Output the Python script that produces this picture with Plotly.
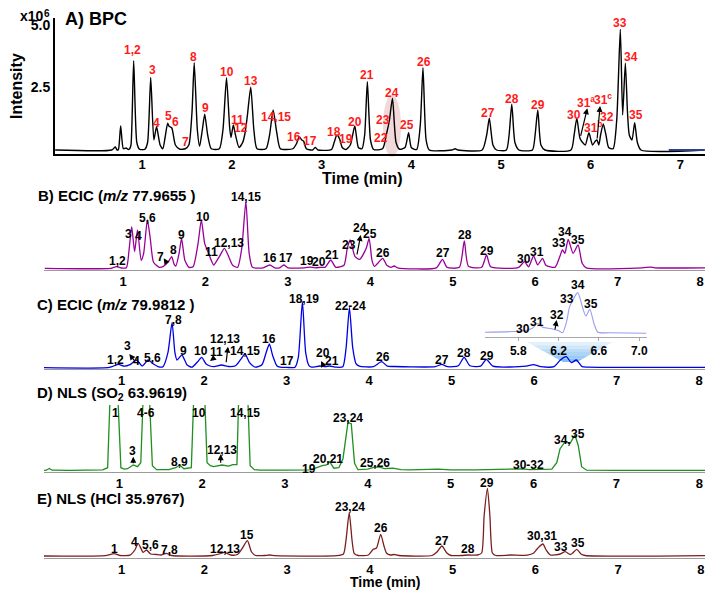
import plotly.graph_objects as go

W, H = 713, 595
OFF = 8  # the page body margin shifts the figure by 8 px; positions below are page pixels
FONT = "Liberation Sans"

# ---------------- data (retention time in min, intensity) ----------------
# A) BPC, intensity x10^6
bpc_t = [0.03, 0.66, 0.70, 0.72, 0.735, 0.76, 0.79, 0.82, 0.845, 0.86, 0.875, 0.905, 0.94, 0.97, 1.03, 1.06,
         1.095, 1.13, 1.16, 1.20, 1.23, 1.255, 1.284, 1.30, 1.33, 1.37, 1.42, 1.48, 1.52, 1.555, 1.58, 1.615,
         1.64, 1.67, 1.697, 1.73, 1.77, 1.86, 1.90, 1.94, 1.975, 1.99, 2.016, 2.04, 2.08, 2.12, 2.146, 2.17,
         2.21, 2.245, 2.28, 2.38, 2.42, 2.46, 2.50, 2.54, 2.68, 2.72, 2.75, 2.78, 2.80, 2.83, 2.90, 2.93, 2.96,
         3.11, 3.14, 3.17, 3.20, 3.23, 3.27, 3.32, 3.37, 3.41, 3.45, 3.48, 3.51, 3.545, 3.58, 3.68, 3.725,
         3.755, 3.79, 3.83, 3.87, 3.93, 3.97, 4.00, 4.06, 4.10, 4.13, 4.165, 4.20, 4.45, 4.49, 4.52, 4.79,
         4.84, 4.87, 4.91, 4.95, 5.06, 5.09, 5.12, 5.155, 5.20, 5.35, 5.38, 5.41, 5.445, 5.49, 5.78, 5.815,
         5.845, 5.88, 5.91, 5.94, 5.98, 6.02, 6.05, 6.07, 6.09, 6.11, 6.14, 6.17, 6.20, 6.25, 6.29, 6.33,
         6.356, 6.386, 6.41, 6.43, 6.46, 6.49, 6.52, 6.56, 7.27]
bpc_i = [0, 0, 0.12, 0.0, 0.02, 0.96, 0.05, 0.08, 0.02, 0.05, 0.2, 3.57, 0.3, 0.03, 0.03, 0.3,
         2.9, 0.4, 0.93, 0.2, 0.05, 0.5, 1.07, 0.95, 0.88, 0.2, 0.03, 0.05, 0.2, 1.5, 3.49, 0.8,
         0.15, 0.8, 1.43, 0.6, 0.05, 0.05, 0.8, 2.89, 0.9, 0.5, 1.0, 0.6, 0.1, 0.3, 0.67, 1.3,
         2.51, 0.8, 0.05, 0.05, 0.6, 1.6, 0.7, 0.05, 0.05, 0.25, 0.53, 0.4, 0.35, 0.05, 0.0, 0.1, 0.0,
         0.02, 0.3, 0.6, 0.45, 0.1, 0.02, 0.2, 0.96, 0.1, 0.05, 0.6, 2.73, 0.4, 0.02, 0.05, 0.67,
         1.17, 2.07, 0.3, 0.03, 0.1, 0.69, 0.1, 0.02, 1.0, 3.29, 0.4, 0.0, 0.0, 0.05, 0.0, 0.0,
         0.6, 1.27, 0.2, 0.0, 0.0, 0.6, 1.83, 0.3, 0.0, 0.0, 0.6, 1.6, 0.2, 0.0, 0.0, 0.6,
         1.27, 0.47, 0.3, 0.2, 0.69, 0.2, 0.35, 0.4, 0.2, 0.6, 1.04, 0.6, 0.1, 0.05, 1.2, 4.83,
         1.4, 3.47, 1.5, 0.6, 0.4, 1.09, 0.3, 0.0, 0.0]
bpc_tail_t = [6.87, 7.27]
bpc_tail_i = [0, 0]

# B) ECIC m/z 77.9655 (relative intensity)
ecic78_t = [0.05, 0.85, 0.92, 0.98, 1.04, 1.075, 1.105, 1.14, 1.175, 1.22, 1.25, 1.295, 1.33, 1.37, 1.44,
            1.49, 1.52, 1.56, 1.59, 1.62, 1.64, 1.68, 1.71, 1.75, 1.80, 1.85, 1.91, 1.95, 1.99, 2.03,
            2.07, 2.10, 2.17, 2.23, 2.28, 2.33, 2.39, 2.44, 2.49, 2.53, 2.57, 2.70, 2.78, 2.84, 2.90,
            2.95, 3.00, 3.20, 3.27, 3.33, 3.40, 3.45, 3.52, 3.58, 3.68, 3.72, 3.755, 3.815, 3.87, 3.95,
            3.985, 4.02, 4.05, 4.10, 4.15, 4.20, 4.25, 4.29, 4.33, 4.80, 4.875, 4.93, 5.08, 5.14, 5.19,
            5.35, 5.41, 5.46, 5.80, 5.87, 5.92, 5.98, 6.03, 6.09, 6.13, 6.24, 6.30, 6.33, 6.36, 6.40,
            6.46, 6.52, 6.57, 6.62, 7.30, 7.40, 7.45, 8.07]
ecic78_i = [0, 0, 1.7, 0.3, 0.5, 20, 41.7, 16.7, 38.3, 8, 15, 48.3, 30, 6, 1,
            2, 4, 8, 11.7, 4, 2.3, 15, 30, 8, 1, 1.5, 25, 48.3, 25, 16.7,
            8, 3.3, 12, 20, 12, 3, 1, 20, 66.7, 15, 1, 0.5, 3.3, 0.5, 0.5,
            3.3, 0.5, 0.5, 1.2, 0.5, 1, 1, 8.3, 1, 3, 20, 28.3, 11.6, 9, 20,
            30, 8, 2, 6, 10, 3, 1, 2.3, 0.5, 0.5, 9, 1, 1, 27.3, 2,
            1, 13.3, 1.5, 1, 6.7, 1.5, 12.3, 3.5, 10, 3, 1, 12, 18.3, 15, 29,
            15, 23.3, 5, 0.5, 0.5, 1.2, 0.5, 0.5]

# C) ECIC m/z 79.9812
ecic80_t = [0.05, 0.85, 0.96, 1.03, 1.10, 1.18, 1.25, 1.32, 1.38, 1.45, 1.50, 1.56, 1.61, 1.645, 1.67,
            1.73, 1.79, 1.85, 1.92, 1.97, 2.02, 2.07, 2.12, 2.21, 2.30, 2.38, 2.44, 2.495, 2.55, 2.62,
            2.70, 2.75, 2.79, 2.83, 2.88, 2.92, 3.00, 3.10, 3.14, 3.19, 3.23, 3.27, 3.30, 3.40, 3.47,
            3.52, 3.60, 3.68, 3.72, 3.76, 3.80, 3.84, 3.88, 4.05, 4.15, 4.22, 4.30, 4.50, 4.80, 4.88,
            4.95, 5.08, 5.15, 5.22, 5.35, 5.42, 5.50, 5.90, 5.99, 6.08, 6.24, 6.32, 6.39, 6.45, 6.51,
            6.58, 6.65, 8.07]
ecic80_i = [0, 0.3, 3.3, 1.5, 3, 7.7, 1.7, 7.7, 4, 0.8, 1, 15, 45, 15, 7.7,
            12.7, 3, 0.5, 6, 10.3, 4, 1.7, 1, 2.7, 1.2, 2, 8, 13.7, 5, 0.5,
            3, 15, 23.7, 12, 2, 0.5, 0.3, 0.5, 10, 66, 15, 2, 0.5, 1.7, 1.2,
            1.7, 0.5, 1, 20, 60.3, 20, 4, 1.5, 1, 6, 1.5, 1.2, 0.8, 1, 3.3,
            1, 2, 10.3, 2, 1.5, 8.3, 1.5, 1.5, 3, 1, 1, 8, 11, 5, 7.7,
            1, 0.5, 0.3]

# C) inset, 5.5 - 7.0 min
inset_t = [5.47, 5.80, 5.88, 5.94, 5.99, 6.04, 6.10, 6.15, 6.20, 6.24, 6.28, 6.31, 6.39, 6.44, 6.47,
           6.51, 6.55, 6.59, 6.70, 7.07]
inset_i = [1, 2, 3, 5, 10, 6, 5, 4, 2.5, 0.5, 12, 26.7, 40.7, 25, 17.3,
           24, 10, 1, 0.5, 0]

# D) NLS SO2 63.9619 (large peaks exceed the displayed range)
nls_so2_t = [0.05, 0.12, 0.156, 0.19, 0.40, 0.80, 0.86, 0.90, 0.97, 1.02, 1.06, 1.10, 1.17, 1.22, 1.26,
             1.30, 1.35, 1.40, 1.45, 1.60, 1.68, 1.73, 1.78, 1.87, 1.91, 2.02, 2.06, 2.10, 2.14, 2.24,
             2.32, 2.37, 2.42, 2.45, 2.54, 2.58, 2.63, 2.70, 3.00, 3.20, 3.30, 3.35, 3.45, 3.50, 3.54,
             3.59, 3.65, 3.70, 3.76, 3.80, 3.84, 3.88, 4.00, 4.07, 4.13, 4.20, 4.30, 4.40, 4.50, 4.85,
             5.00, 5.30, 5.50, 5.70, 5.87, 5.95, 6.10, 6.22, 6.28, 6.32, 6.38, 6.44, 6.50, 6.54, 6.58,
             6.64, 7.00, 8.07]
nls_so2_i = [0, 0.5, 2.3, 0.5, 0.3, 0.8, 3, 100, 100, 3, 1.5, 2, 5.7, 4, 8,
             100, 100, 5, 1, 1, 3, 5.7, 2, 3, 100, 100, 8, 5, 4, 5.7,
             4.5, 6, 6, 100, 100, 5, 1, 0.5, 0.5, 1, 0.8, 2, 5, 5.7, 9,
             2.5, 3, 12, 48, 47, 7.3, 1, 1.5, 3.3, 3.7, 2, 2.5, 1, 0.8, 1.5,
             0.8, 0.8, 1, 1, 1.8, 1, 1.2, 1.5, 8, 22, 29, 27.3, 35.7, 25, 4,
             0.5, 0.3, 0.3]

# E) NLS HCl 35.9767
nls_hcl_t = [0.05, 0.80, 0.91, 0.98, 1.10, 1.16, 1.20, 1.26, 1.30, 1.35, 1.42, 1.48, 1.54, 1.60, 2.10,
             2.20, 2.24, 2.32, 2.40, 2.46, 2.52, 2.57, 2.62, 2.72, 2.79, 2.86, 3.60, 3.68, 3.71, 3.75,
             3.785, 3.81, 3.86, 3.98, 4.04, 4.08, 4.13, 4.17, 4.20, 4.25, 4.29, 4.35, 4.75, 4.81, 4.87,
             4.93, 4.98, 5.10, 5.19, 5.30, 5.35, 5.38, 5.42, 5.45, 5.48, 5.52, 5.70, 5.90, 5.98, 6.03,
             6.09, 6.13, 6.18, 6.30, 6.36, 6.42, 6.45, 6.50, 6.55, 6.60, 8.07]
nls_hcl_i = [0, 0.3, 2.3, 0.5, 0.8, 6, 12.7, 3.7, 6, 2, 1.5, 1, 2.7, 0.5, 0.5,
             2.5, 3.7, 1, 1.5, 8, 15.3, 4, 0.5, 0.5, 1, 0.3, 0.3, 2, 15, 43.3,
             15, 2.7, 0.5, 1, 6.7, 8, 21.7, 10, 3, 1, 1.5, 0.5, 0.5, 4, 10,
             3, 0.5, 0.5, 1, 1, 3, 40, 67.7, 40, 3, 0.5, 1, 0.8, 3, 8,
             12, 6, 1, 2, 4.3, 1.5, 3, 6.7, 2, 0.5, 0.3]

for _a, _b in [(bpc_t, bpc_i), (ecic78_t, ecic78_i), (ecic80_t, ecic80_i), (inset_t, inset_i),
               (nls_so2_t, nls_so2_i), (nls_hcl_t, nls_hcl_i)]:
    assert len(_a) == len(_b), (len(_a), len(_b))

# ---------------- peak labels (text, time, height) ----------------
A_lab = ["1,2", "3", "4", "5", "6", "7", "8", "9", "10", "11", "12", "13", "14,15", "16", "17", "18", "19",
         "20", "21", "22", "23", "24", "25", "26", "27", "28", "29", "30", "31<sup>a</sup>", "31<sup>b</sup>",
         "31<sup>c</sup>", "32", "33", "34", "35"]
A_lab_t = [0.897, 1.12, 1.165, 1.288, 1.366, 1.488, 1.577, 1.711, 1.945, 2.057, 2.101, 2.213, 2.49, 2.692,
           2.871, 3.138, 3.272, 3.372, 3.506, 3.662, 3.685, 3.785, 3.952, 4.141, 4.855, 5.122, 5.412,
           5.814, 5.95, 6.02, 6.14, 6.182, 6.327, 6.449, 6.505]
A_lab_v = [4.0, 3.2, 1.08, 1.36, 1.12, 0.32, 3.72, 1.68, 3.12, 1.2, 0.88, 2.76, 1.32, 0.52, 0.36, 0.72, 0.44,
           1.12, 3.0, 0.48, 1.2, 2.28, 1.0, 3.52, 1.48, 2.04, 1.8, 1.4, 1.92, 0.92, 2.04, 1.32, 5.08, 3.72, 1.4]

B_lab = ["1,2", "3", "4", "5,6", "7", "8", "9", "10", "11", "12,13", "14,15", "16", "17", "19", "20", "21",
         "23", "24", "25", "26", "27", "28", "29", "30", "31", "33", "34", "35"]
B_lab_t = [0.927, 1.072, 1.182, 1.291, 1.449, 1.606, 1.715, 1.970, 2.067, 2.286, 2.492, 2.783, 2.977, 3.232,
           3.378, 3.535, 3.741, 3.875, 3.996, 4.154, 4.882, 5.149, 5.415, 5.864, 6.022, 6.289, 6.362, 6.52]
B_lab_v = [7.3, 34.3, 32.3, 50.3, 11.3, 18.3, 33.3, 51.3, 16.3, 25.3, 71.3, 10.3, 10.3, 7.3, 6.3, 13.3,
           23.3, 40.3, 34.3, 15.3, 15.3, 33.3, 17.3, 9.3, 16.3, 25.3, 36.3, 28.3]

C_lab = ["1,2", "3", "4", "5,6", "7,8", "9", "10", "11", "12,13", "14,15", "16", "17", "18,19", "20", "21",
         "22-24", "26", "27", "28", "29"]
C_lab_t = [0.919, 1.076, 1.185, 1.367, 1.622, 1.743, 1.961, 2.143, 2.252, 2.495, 2.785, 3.004, 3.21, 3.44,
           3.549, 3.773, 4.167, 4.882, 5.149, 5.428]
C_lab_v = [7.7, 21.7, 6.7, 9.7, 47.7, 16.7, 16.7, 15.7, 28.7, 16.7, 28.7, 6.7, 68.7, 14.7, 6.7, 61.7,
           10.7, 7.7, 14.7, 11.7]

I_lab = ["30", "31", "32", "33", "34", "35"]
I_lab_t = [5.844, 5.983, 6.181, 6.28, 6.395, 6.518]
I_lab_v = [4, 11.6, 18.3, 34, 48.3, 29.3]
inset_ticks = [5.8, 6.2, 6.6, 7.0]

D_lab = ["1", "3", "4-6", "8,9", "10", "12,13", "14,15", "19", "20,21", "23,24", "25,26", "30-32", "34,", "35"]
D_lab_t = [0.949, 1.157, 1.323, 1.733, 1.962, 2.236, 2.517, 3.294, 3.516, 3.764, 4.086, 5.937, 6.352, 6.54]
D_lab_v = [57.7, 20, 57.7, 9, 57.7, 20.7, 57.7, 1.4, 11.4, 52.4, 8, 5.7, 30.7, 36.7]

E_lab = ["1", "4", "5,6", "7,8", "12,13", "15", "23,24", "26", "27", "28", "29", "30,31", "33", "35"]
E_lab_t = [0.911, 1.153, 1.351, 1.584, 2.249, 2.518, 3.759, 4.134, 4.867, 5.189, 5.418, 6.075, 6.309, 6.518]
E_lab_v = [6.7, 14.3, 11, 6, 6.7, 21, 49.3, 27.7, 15.3, 6.7, 73.3, 20, 9.3, 13.3]

# arrows: (axis suffix, head time, head height, tail dx px, tail dy px)
arrows = [("", 5.962, 1.668, -7, 29), ("", 6.104, 1.76, -3, 34),
          ("2", 1.493, 10, 4, 6), ("2", 3.883, 33.3, -4, 21),
          ("3", 1.092, 13.7, 6, 8), ("3", 2.07, 6.7, 4, -3), ("3", 2.288, 21, -2, 17), ("3", 3.416, 6.7, 2, 4),
          ("4", 6.181, 13.3, -2, 11),
          ("5", 1.169, 14, 0, 8), ("5", 2.224, 16.4, 0, 10)]


def px(x):
    return (x - OFF) / W


def py(y):
    return 1 - (y - OFF) / H


fig = go.Figure()

traces = [
    (bpc_t, bpc_i, "black", "x", "y", "spline", 1.4),
    (bpc_tail_t, bpc_tail_i, "#2b3f8f", "x", "y", "linear", 2),
    (ecic78_t, ecic78_i, "#990099", "x2", "y2", "spline", 1.3),
    (ecic80_t, ecic80_i, "#0000e6", "x3", "y3", "spline", 1.3),
    (inset_t, inset_i, "#9b9bef", "x4", "y4", "spline", 1.1),
    (nls_so2_t, nls_so2_i, "#1f8f1f", "x5", "y5", "linear", 1.3),
    (nls_hcl_t, nls_hcl_i, "#7a1f1f", "x6", "y6", "spline", 1.3),
]
for t, v, c, xa, ya, shp, wd in traces:
    line = dict(color=c, width=wd, shape=shp)
    if shp == "spline":
        line["smoothing"] = 0.6
    fig.add_trace(go.Scatter(x=t, y=v, mode="lines", line=line, xaxis=xa, yaxis=ya,
                             hoverinfo="skip", showlegend=False))

tickfont = dict(family=FONT, size=13, color="black", weight="bold")


def xaxis(dom, rng, tv, tt=None, lc="#9a9a9a", lw=1, anchor=None, ticks="", ticklen=0, standoff=-1):
    d = dict(domain=[px(dom[0]), px(dom[1])], range=rng, showline=True, linecolor=lc, linewidth=lw,
             showgrid=False, zeroline=False, tickvals=tv, ticks=ticks, ticklen=ticklen, tickcolor=lc,
             tickfont=tickfont, anchor=anchor, ticklabelstandoff=standoff)
    if tt is not None:
        d["ticktext"] = tt
    return d


def yaxis(dom, rng, anchor, visible=False):
    return dict(domain=[py(dom[1]), py(dom[0])], range=rng, visible=visible, showgrid=False,
                zeroline=False, anchor=anchor)


int_ticks7 = [1, 2, 3, 4, 5, 6, 7]
int_ticks8 = [1, 2, 3, 4, 5, 6, 7, 8]

fig.update_layout(
    width=W, height=H, margin=dict(l=0, r=0, t=0, b=0),
    paper_bgcolor="white", plot_bgcolor="rgba(0,0,0,0)", showlegend=False,
    xaxis=xaxis((55, 705), [0.028, 7.274], int_ticks7, lc="black", lw=2, anchor="y", standoff=-3),
    yaxis=dict(domain=[py(154), py(18)], range=[-0.16, 5.28], showline=True, linecolor="black",
               linewidth=2, showgrid=False, zeroline=False, tickvals=[2.5, 5.0], ticktext=["2.5", "5.0"],
               ticks="", tickfont=dict(family=FONT, size=14, color="black", weight="bold"), anchor="x"),
    xaxis2=xaxis((44, 706), [0.041, 8.072], int_ticks8, anchor="y2"),
    yaxis2=yaxis((190, 270), [-1.7, 78.3], "x2"),
    xaxis3=xaxis((44, 706), [0.058, 8.082], int_ticks8, anchor="y3"),
    yaxis3=yaxis((296, 369), [-1.3, 71.7], "x3"),
    xaxis4=xaxis((485, 647), [5.470, 7.077], inset_ticks, [f"{v:.1f}" for v in inset_ticks],
                 lc="#a8a8a8", anchor="y4", ticks="outside", ticklen=3, standoff=0),
    yaxis4=yaxis((280, 337), [-3.7, 53.3], "x4"),
    xaxis5=xaxis((44, 706), [0.092, 8.081], int_ticks8, anchor="y5"),
    yaxis5=yaxis((405, 472), [-1.3, 65.7], "x5"),
    xaxis6=xaxis((44, 706), [0.062, 8.061], int_ticks8, anchor="y6"),
    yaxis6=yaxis((475, 558), [-2, 81], "x6"),
)
fig.layout.xaxis4.tickfont = dict(family=FONT, size=12, color="black", weight="bold")

# highlight ellipse around peaks 23/24 in BPC
fig.add_shape(type="circle", xref="paper", yref="paper", x0=px(383), x1=px(401), y0=py(157), y1=py(95),
              fillcolor="rgba(225,170,170,0.45)", line=dict(width=0), layer="below")

# zoom fan from inset to main trace (banded gradient)
TL, TR, BR, BL = (527, 342), (613, 342), (577, 362), (563, 362)
nb = 6


def lerp(a, b, f):
    return a + (b - a) * f


for i in range(nb):
    f0, f1 = i / nb, (i + 1) / nb
    xl0, xr0 = lerp(TL[0], BL[0], f0), lerp(TR[0], BR[0], f0)
    xl1, xr1 = lerp(TL[0], BL[0], f1), lerp(TR[0], BR[0], f1)
    y0, y1 = lerp(TL[1], BL[1], f0), lerp(TL[1], BL[1], f1)
    fm = (f0 + f1) / 2
    col = "rgb(%d,%d,%d)" % (lerp(236, 125, fm), lerp(246, 188, fm), lerp(253, 240, fm))
    path = "M %f,%f L %f,%f L %f,%f L %f,%f Z" % (px(xl0), py(y0), px(xr0), py(y0), px(xr1), py(y1),
                                                  px(xl1), py(y1))
    fig.add_shape(type="path", xref="paper", yref="paper", path=path, fillcolor=col,
                  line=dict(width=0), layer="below")


def label(text, x, y, xref, yref, size=12, color="black", xanchor="center", angle=0):
    fig.add_annotation(text=text, x=x, y=y, xref=xref, yref=yref, showarrow=False, xanchor=xanchor,
                       yanchor="middle", textangle=angle, borderpad=0,
                       font=dict(family=FONT, size=size, color=color, weight="bold"))


panels = [
    (A_lab, A_lab_t, A_lab_v, "x", "y", "#ff1a1a"),
    (B_lab, B_lab_t, B_lab_v, "x2", "y2", "black"),
    (C_lab, C_lab_t, C_lab_v, "x3", "y3", "black"),
    (I_lab, I_lab_t, I_lab_v, "x4", "y4", "black"),
    (D_lab, D_lab_t, D_lab_v, "x5", "y5", "black"),
    (E_lab, E_lab_t, E_lab_v, "x6", "y6", "black"),
]
for names, ts, vs, xr, yr, col in panels:
    for n, t, v in zip(names, ts, vs):
        label(n, t, v, xr, yr, size=12, color=col)

for sfx, t, v, dx, dy in arrows:
    fig.add_annotation(x=t, y=v, xref="x" + sfx, yref="y" + sfx, text="", showarrow=True, ax=dx, ay=dy,
                       arrowhead=2, arrowsize=1, arrowwidth=1.2, arrowcolor="black")

# titles and axis titles
label("A) BPC", px(64), py(18.5), "paper", "paper", size=18, xanchor="left")
label("x10", px(19), py(16), "paper", "paper", size=14, xanchor="left")
label("6", px(43), py(14), "paper", "paper", size=10, xanchor="left")
label("Intensity", px(17), py(86), "paper", "paper", size=16, angle=-90)
label("Time (min)", px(362), py(178), "paper", "paper", size=16)
label("B) ECIC (<i>m/z</i> 77.9655 )", px(37), py(195), "paper", "paper", size=15, xanchor="left")
label("C) ECIC (<i>m/z</i> 79.9812 )", px(36), py(304), "paper", "paper", size=15, xanchor="left")
label("D) NLS (SO<sub>2</sub> 63.9619)", px(36), py(393), "paper", "paper", size=15, xanchor="left")
label("E) NLS (HCl 35.9767)", px(36), py(498), "paper", "paper", size=15, xanchor="left")
label("Time (min)", px(385), py(582), "paper", "paper", size=14)

fig.write_html("out.html")
